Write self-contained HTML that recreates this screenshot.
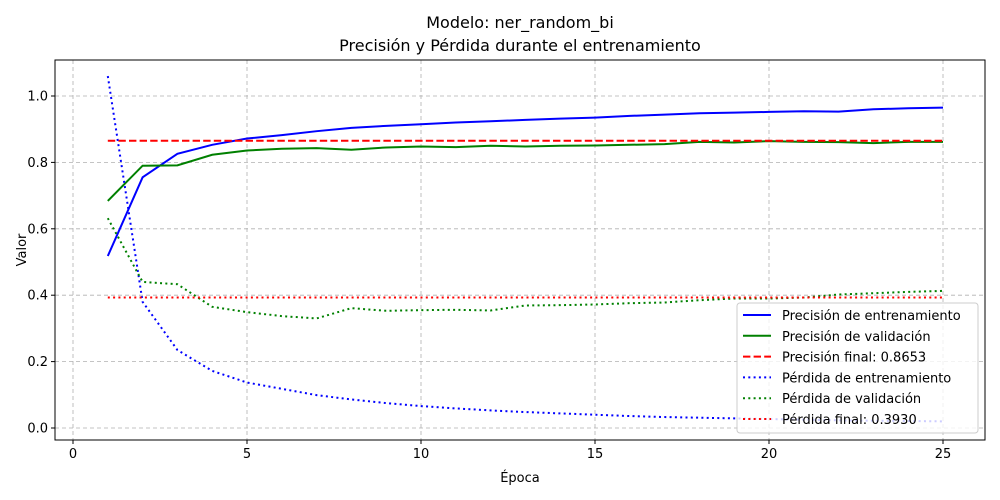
<!DOCTYPE html>
<html><head><meta charset="utf-8"><style>body{margin:0;background:#fff}svg{display:block;font-family:"DejaVu Sans","Liberation Sans",sans-serif}</style></head>
<body>
<svg id="chart" width="1000" height="500"></svg>
<script>
const epochs=[1,2,3,4,5,6,7,8,9,10,11,12,13,14,15,16,17,18,19,20,21,22,23,24,25];
const trainAcc=[0.518,0.755,0.826,0.853,0.872,0.882,0.894,0.904,0.910,0.915,0.920,0.924,0.928,0.932,0.935,0.940,0.944,0.948,0.950,0.952,0.954,0.953,0.960,0.963,0.965];
const valAcc=[0.684,0.790,0.791,0.823,0.836,0.841,0.843,0.838,0.845,0.848,0.846,0.850,0.848,0.850,0.851,0.853,0.855,0.862,0.860,0.864,0.862,0.861,0.858,0.862,0.862];
const trainLoss=[1.06,0.38,0.235,0.172,0.137,0.118,0.099,0.086,0.075,0.066,0.059,0.053,0.048,0.044,0.040,0.036,0.033,0.031,0.029,0.027,0.025,0.023,0.022,0.021,0.020];
const valLoss=[0.632,0.44,0.433,0.365,0.349,0.337,0.330,0.361,0.353,0.355,0.356,0.354,0.369,0.370,0.372,0.376,0.378,0.385,0.390,0.390,0.393,0.402,0.406,0.410,0.413];
const finalAcc=0.8653, finalLoss=0.3930;
const xTicks=[0,5,10,15,20,25];
const yTicks=[0.0,0.2,0.4,0.6,0.8,1.0];
const NS="http://www.w3.org/2000/svg";
const svg=document.getElementById('chart');
const L=55,R=985,T=60,B=440;
const X=v=>73+(v-0)*(943-73)/25;
const Y=v=>428-v*332;
function mk(tag,attrs,parent){const e=document.createElementNS(NS,tag);for(const k in attrs)e.setAttribute(k,attrs[k]);(parent||svg).appendChild(e);return e;}
const grid=mk('g',{});


xTicks.forEach(t=>{
 mk('line',{x1:X(t),x2:X(t),y1:T,y2:B,stroke:'#b0b0b0','stroke-dasharray':'4,3','stroke-width':0.8},grid);
 mk('line',{x1:X(t),x2:X(t),y1:B,y2:B+4,stroke:'#000'});
 const tx=mk('text',{x:X(t),y:B+18,'font-size':13,'text-anchor':'middle'});tx.textContent=t;
 
 
});
yTicks.forEach(t=>{
 mk('line',{x1:L,x2:R,y1:Y(t),y2:Y(t),stroke:'#b0b0b0','stroke-dasharray':'4,3','stroke-width':0.8},grid);
 mk('line',{x1:L-4,x2:L,y1:Y(t),y2:Y(t),stroke:'#000'});
 const tx=mk('text',{x:L-7,y:Y(t)+4.5,'font-size':13,'text-anchor':'end'});tx.textContent=t.toFixed(1);
 
 
});
function series(vals,color,dash,name){
 const p=mk('polyline',{points:vals.map((v,i)=>X(epochs[i])+','+Y(v)).join(' '),fill:'none',stroke:color,'stroke-width':2,'stroke-dasharray':dash});
 
 
}
series(trainAcc,'#0000ff','none','train-accuracy-line');
series(valAcc,'#008000','none','val-accuracy-line');
const h1=mk('line',{x1:X(1),x2:X(25),y1:Y(finalAcc),y2:Y(finalAcc),stroke:'#ff0000','stroke-width':2,'stroke-dasharray':'7.4,3.2'});


series(trainLoss,'#0000ff','2,3.3','train-loss-line');
series(valLoss,'#008000','2,3.3','val-loss-line');
const h2=mk('line',{x1:X(1),x2:X(25),y1:Y(finalLoss),y2:Y(finalLoss),stroke:'#ff0000','stroke-width':2,'stroke-dasharray':'2,3.3'});


mk('rect',{x:L,y:T,width:R-L,height:B-T,fill:'none',stroke:'#000','stroke-width':1});
const t1=mk('text',{x:520,y:28,'font-size':16,'text-anchor':'middle'});t1.textContent='Modelo: ner_random_bi';


const t2=mk('text',{x:520,y:51,'font-size':16,'text-anchor':'middle'});t2.textContent='Precisión y Pérdida durante el entrenamiento';


const xl=mk('text',{x:520,y:482,'font-size':13,'text-anchor':'middle'});xl.textContent='Época';


const yl=mk('text',{x:26,y:250,'font-size':13,'text-anchor':'middle',transform:'rotate(-90 26 250)'});yl.textContent='Valor';


const lg=mk('g',{});


mk('rect',{x:737,y:303,width:241,height:130,rx:3,fill:'#fff','fill-opacity':0.8,stroke:'#ccc'},lg);
const items=[['Precisión de entrenamiento','#0000ff','none'],['Precisión de validación','#008000','none'],['Precisión final: 0.8653','#ff0000','7.4,3.2'],['Pérdida de entrenamiento','#0000ff','2,3.3'],['Pérdida de validación','#008000','2,3.3'],['Pérdida final: 0.3930','#ff0000','2,3.3']];
items.forEach((it,i)=>{
 const y=315+i*20.8;
 mk('line',{x1:743,x2:771,y1:y,y2:y,stroke:it[1],'stroke-width':2,'stroke-dasharray':it[2]},lg);
 const tx=mk('text',{x:782,y:y+5,'font-size':13},lg);tx.textContent=it[0];
 
 
});
</script>
</body></html>
